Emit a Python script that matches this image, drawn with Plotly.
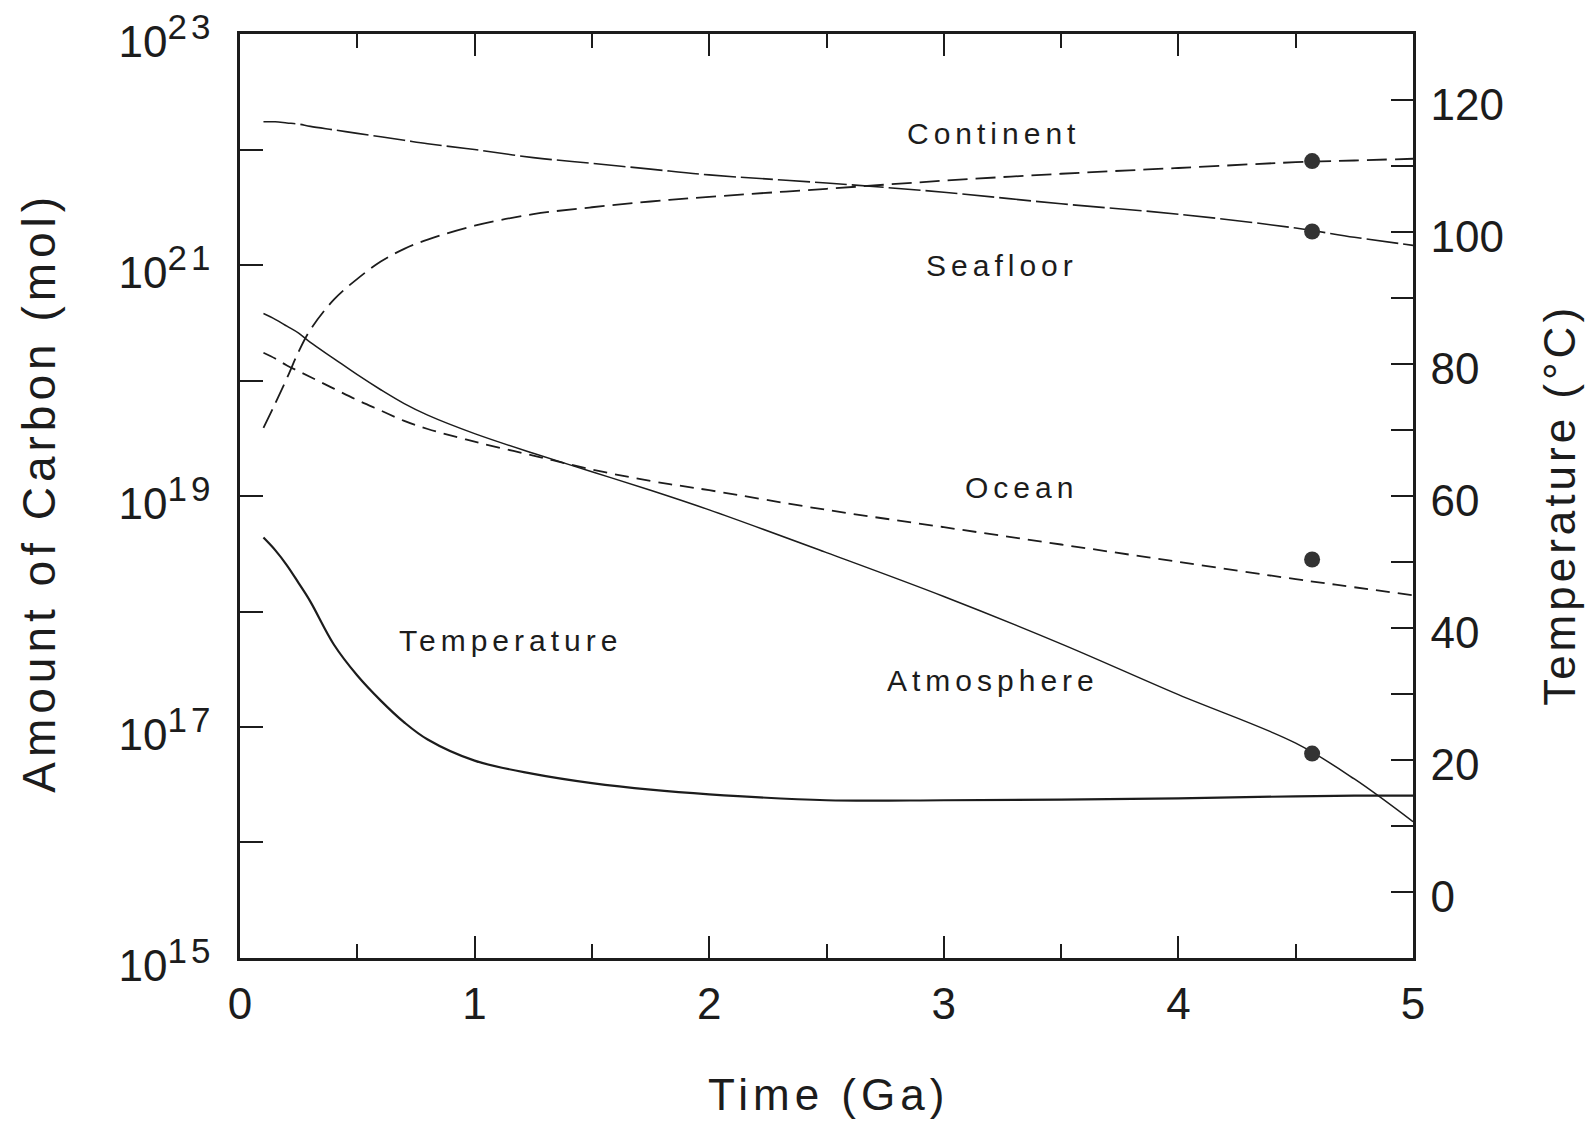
import plotly.graph_objects as go

# ---- data ----
time_ga = [0.1, 0.15, 0.2, 0.25, 0.3, 0.4, 0.5, 0.6, 0.7, 0.8, 1.0, 1.25, 1.5, 1.75,
           2.0, 2.5, 3.0, 3.5, 4.0, 4.5, 4.75, 5.0]

# log10 of amount of carbon (mol)
continent_log10 = [19.59, 19.80, 20.02, 20.25, 20.44, 20.70, 20.88, 21.03, 21.14, 21.22,
                   21.34, 21.44, 21.50, 21.55, 21.59, 21.66, 21.73, 21.79, 21.84, 21.89, 21.905, 21.92]
seafloor_log10 = [22.24, 22.24, 22.23, 22.22, 22.20, 22.17, 22.14, 22.11, 22.08, 22.05,
                  22.00, 21.93, 21.88, 21.83, 21.78, 21.71, 21.63, 21.53, 21.44, 21.32, 21.24, 21.17]
ocean_log10 = [20.24, 20.19, 20.13, 20.08, 20.03, 19.93, 19.83, 19.74, 19.65, 19.58,
               19.47, 19.35, 19.23, 19.13, 19.05, 18.88, 18.73, 18.58, 18.43, 18.28, 18.21, 18.14]
atmosphere_log10 = [20.58, 20.53, 20.47, 20.41, 20.33, 20.19, 20.05, 19.92, 19.80, 19.70,
                    19.54, 19.37, 19.21, 19.05, 18.88, 18.51, 18.13, 17.72, 17.28, 16.86, 16.55, 16.18]
temperature_c = [53.7, 51.8, 49.5, 46.8, 44.0, 37.5, 32.8, 29.0, 25.7, 23.1,
                 19.9, 17.9, 16.5, 15.5, 14.8, 13.9, 13.9, 14.0, 14.2, 14.5, 14.6, 14.6]

# present-day observed values (dots)
present_time = [4.57, 4.57, 4.57, 4.57]
present_log10 = [21.90, 21.29, 18.45, 16.77]

# axis ticks
left_tick_exp = [15, 16, 17, 18, 19, 20, 21, 22, 23]
left_tick_labeled = [15, 17, 19, 21, 23]
right_tick_vals = [0, 20, 40, 60, 80, 100, 120]

INK = "#1c1c1c"
FONT = "Liberation Sans"

def to_mol(v):
    return [10.0 ** x for x in v]

fig = go.Figure()
fig.add_trace(go.Scatter(x=time_ga, y=to_mol(seafloor_log10), mode="lines", name="Seafloor",
                         line=dict(color=INK, width=1.6, dash="32px,5px", shape="spline")))
fig.add_trace(go.Scatter(x=time_ga, y=to_mol(continent_log10), mode="lines", name="Continent",
                         line=dict(color=INK, width=1.8, dash="20px,8px", shape="spline")))
fig.add_trace(go.Scatter(x=time_ga, y=to_mol(ocean_log10), mode="lines", name="Ocean",
                         line=dict(color=INK, width=1.8, dash="14px,8px", shape="spline")))
fig.add_trace(go.Scatter(x=time_ga, y=to_mol(atmosphere_log10), mode="lines", name="Atmosphere",
                         line=dict(color=INK, width=1.5, shape="spline")))
fig.add_trace(go.Scatter(x=time_ga, y=temperature_c, mode="lines", name="Temperature",
                         yaxis="y2", line=dict(color=INK, width=2.2, shape="spline")))
fig.add_trace(go.Scatter(x=present_time, y=to_mol(present_log10), mode="markers", name="Present",
                         marker=dict(color="#333333", size=16)))

def sp(txt, ls):
    return f"<span style='letter-spacing:{ls}px'>{txt}</span>"

left_ticktext = []
for e in left_tick_exp:
    if e in left_tick_labeled:
        left_ticktext.append(f"10<sup><span style='font-size:35px;letter-spacing:4px'>{e}</span></sup>")
    else:
        left_ticktext.append("")

axis_common = dict(showgrid=False, zeroline=False, showline=True, linecolor=INK, linewidth=2.5,
                   ticks="inside", tickcolor=INK, tickwidth=2.2, automargin=False)

fig.update_layout(
    width=1596, height=1129,
    margin=dict(l=240, r=183, t=34, b=171),
    paper_bgcolor="white", plot_bgcolor="white",
    showlegend=False,
    font=dict(family=FONT, color=INK, size=44),
    xaxis=dict(range=[0, 5], tickvals=[0, 1, 2, 3, 4, 5], ticklen=22, mirror="ticks",
               tickfont=dict(size=44), ticklabelstandoff=5,
               minor=dict(dtick=0.5, ticks="inside", ticklen=14, tickcolor=INK, tickwidth=2.2),
               **axis_common),
    yaxis=dict(type="log", range=[14.9999, 23.0001], tickvals=[10.0 ** e for e in left_tick_exp],
               ticktext=left_ticktext, ticklen=23, mirror=False, ticklabeloverflow="allow",
               ticklabelshift=8,
               tickfont=dict(size=44), ticklabelstandoff=14, **axis_common),
    yaxis2=dict(overlaying="y", side="right", range=[-10, 130], tickvals=right_tick_vals,
                ticklen=22, tickfont=dict(size=44), ticklabelstandoff=6, ticklabelshift=5,
                minor=dict(dtick=10, ticks="inside", ticklen=22, tickcolor=INK, tickwidth=2.2),
                **axis_common),
)

lab_font = dict(family=FONT, size=30, color=INK)
labels = [
    ("Continent", 3.21, 22.14),
    ("Seafloor", 3.25, 21.0),
    ("Ocean", 3.33, 19.07),
    ("Atmosphere", 3.21, 17.40),
    ("Temperature", 1.155, 17.75),
]
for txt, xx, yy in labels:
    fig.add_annotation(x=xx, y=yy, xref="x", yref="y", text=sp(txt, 5), showarrow=False,
                       font=lab_font, xanchor="center", yanchor="middle")

# axis titles
fig.add_annotation(x=-0.171, y=0.504, xref="paper", yref="paper", text=sp("Amount of Carbon (mol)", 5),
                   textangle=-90, showarrow=False, font=dict(family=FONT, size=46, color=INK),
                   xanchor="center", yanchor="middle")
fig.add_annotation(x=1.125, y=0.49, xref="paper", yref="paper", text=sp("Temperature (°C)", 4),
                   textangle=-90, showarrow=False, font=dict(family=FONT, size=44, color=INK),
                   xanchor="center", yanchor="middle")
fig.add_annotation(x=0.502, y=-0.148, xref="paper", yref="paper", text=sp("Time (Ga)", 5),
                   showarrow=False, font=dict(family=FONT, size=44, color=INK),
                   xanchor="center", yanchor="middle")

# remove the page's default 8px body margin so the figure fills the window exactly
fig.write_html("out.html", config={"displayModeBar": False},
               post_script="document.body.style.margin='0';")
